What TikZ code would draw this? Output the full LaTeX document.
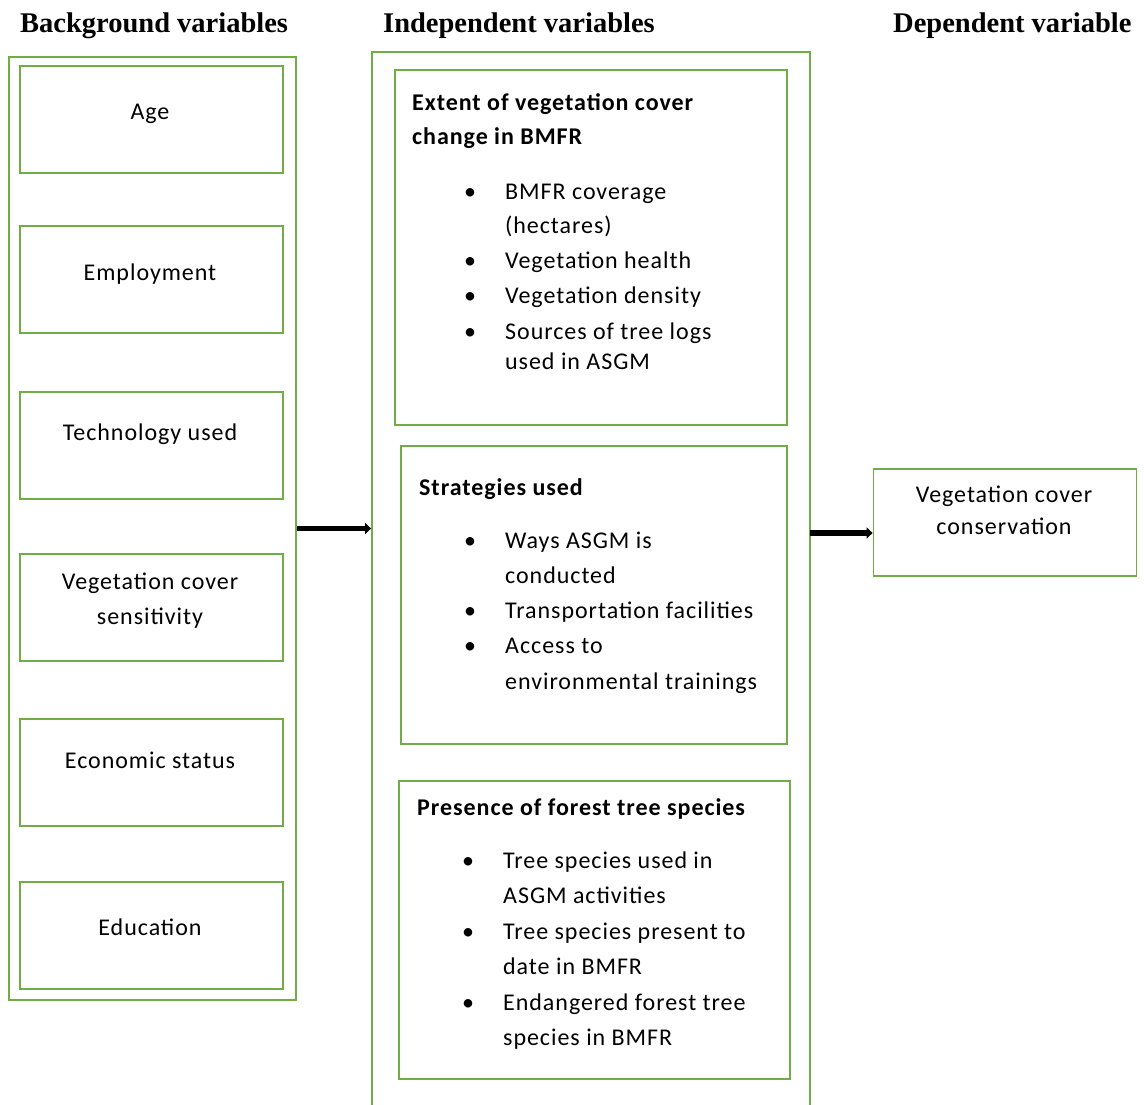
\documentclass[tikz,border=0pt]{standalone}
\usepackage{fontspec}
\setmainfont{Carlito}[LetterSpace=4.0]
\newfontfamily\headfont{Liberation Serif}
\usepackage{array}
\usetikzlibrary{arrows.meta}

\definecolor{boxgreen}{RGB}{112,173,71}
\newcommand{\bodysize}{\fontsize{24}{35.5}\selectfont}

\begin{document}
\begin{tikzpicture}[x=1pt,y=-1pt,
		VarBox/.style = {draw=boxgreen, line width=1.8pt, inner sep=0pt},
		VarText/.style = {inner sep=0pt, anchor=base, font=\bodysize},
		ListText/.style = {inner sep=0pt, anchor=base west, font=\bodysize},
		HeadText/.style = {inner sep=0pt, anchor=base west, font=\headfont\bfseries\fontsize{28.5}{30}\selectfont},
		FlowArrow/.style = {line width=5.5pt, -{Triangle[length=6pt,width=11pt]}}]
	\useasboundingbox (0,0) rectangle (1144,1104);
		\node[HeadText] (hbg) at (20,32) {Background variables};
		\node[HeadText] (hind) at (383,32) {Independent variables};
		\node[HeadText] (hdep) at (893,32) {Dependent variable};
	\begin{scope}[VarBox/.append style = {minimum width=263pt, minimum height=107pt}]
		\node[VarBox] (age) at (151.5,119.5) {};
		\node[VarBox] (emp) at (151.5,279.5) {};
		\node[VarBox] (tech) at (151.5,445.5) {};
		\node[VarBox] (sens) at (151.5,607.5) {};
		\node[VarBox] (econ) at (151.5,772.5) {};
		\node[VarBox] (edu) at (151.5,935.5) {};
		\node[VarBox] (cons) at (1005,522.5) {};
	\end{scope}
		\node[VarText] (tage) at (150,119) {Age};
		\node[VarText] (temp) at (150,280) {Employment};
		\node[VarText] (ttech) at (150,440) {Technology used};
		\node[VarText] (tsens) at (150,589) {\begin{tabular}[t]{@{}c@{}}Vegetation cover\\sensitivity\end{tabular}};
		\node[VarText] (tecon) at (150,768) {Economic status};
		\node[VarText] (tedu) at (150,935) {Education};
		\node[VarText] (tcons) at (1004,502) {\begin{tabular}[t]{@{}c@{}}Vegetation cover\\[-3pt]conservation\end{tabular}};
		\node[VarBox, minimum width=287pt, minimum height=943pt] (bgbox) at (152.5,528.5) {};
		\node[VarBox, minimum width=438pt, minimum height=1063pt] (indbox) at (591,583.5) {};
	% independent variable groups
		\node[VarBox, minimum width=392pt, minimum height=355pt] (extent) at (591,247.5) {};
		\node[VarBox, minimum width=386pt, minimum height=298pt] (strat) at (594,595) {};
		\node[VarBox, minimum width=391pt, minimum height=298pt] (species) at (594.5,930) {};
		\node[ListText] (textent) at (412,110) {\bfseries\begin{tabular}[t]{@{}l@{}}Extent of vegetation cover\\[-1pt]change in BMFR\end{tabular}};
		\node[ListText] (lextent) at (464,199) {\begin{tabular}[t]{@{}p{41pt}@{}l@{}}
			\textbullet & BMFR coverage\\[-1pt]
			& (hectares)\\[-1pt]
			\textbullet & Vegetation health\\
			\textbullet & Vegetation density\\
			\textbullet & Sources of tree logs\\[-5pt]
			& used in ASGM
		\end{tabular}};
		\node[ListText] (tstrat) at (419,495) {\bfseries Strategies used};
		\node[ListText] (lstrat) at (464,548) {\begin{tabular}[t]{@{}p{41pt}@{}l@{}}
			\textbullet & Ways ASGM is\\
			& conducted\\[-1pt]
			\textbullet & Transportation facilities\\
			\textbullet & Access to\\
			& environmental trainings
		\end{tabular}};
		\node[ListText] (tspecies) at (417,815) {\bfseries Presence of forest tree species};
		\node[ListText] (lspecies) at (462,868) {\begin{tabular}[t]{@{}p{41pt}@{}l@{}}
			\textbullet & Tree species used in\\
			& ASGM activities\\
			\textbullet & Tree species present to\\
			& date in BMFR\\
			\textbullet & Endangered forest tree\\
			& species in BMFR
		\end{tabular}};
		\coordinate (out) at (810,533);
		\draw[FlowArrow] (bgbox.east) -- (bgbox.east -| indbox.west);
		\draw[FlowArrow] (out) -- (out -| cons.west);
	\end{tikzpicture}
\end{document}
